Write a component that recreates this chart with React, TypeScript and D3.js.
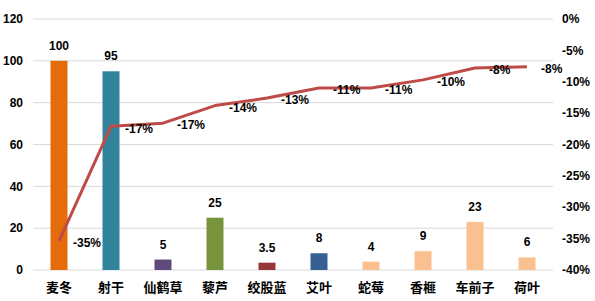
import React from "react";
import * as d3 from "d3";

const categories = ["麦冬", "射干", "仙鹤草", "藜芦", "绞股蓝", "艾叶", "蛇莓", "香榧", "车前子", "荷叶"];
const barValues = [100, 95, 5, 25, 3.5, 8, 4, 9, 23, 6];
const barLabels = ["100", "95", "5", "25", "3.5", "8", "4", "9", "23", "6"];
const barColors = ["#E46C0A", "#31849B", "#604A7B", "#77933C", "#953735", "#376092", "#FAC090", "#FAC090", "#FAC090", "#FAC090"];
const lineValues = [-35.4, -17.1, -16.6, -13.8, -12.6, -11, -11, -9.7, -7.8, -7.6];
const leftTicks = [0, 20, 40, 60, 80, 100, 120];
const rightTicks = [0, -5, -10, -15, -20, -25, -30, -35, -40];

const W = 595;
const H = 301;
const left = 33;
const right = 553;
const top = 19;
const bottom = 270;

export default function App() {
  const x = d3.scaleBand<string>().domain(categories).range([left, right]).paddingInner(0).paddingOuter(0);
  const yL = d3.scaleLinear().domain([0, 120]).range([bottom, top]);
  const yR = d3.scaleLinear().domain([-40, 0]).range([bottom, top]);
  const barW = 17;
  const cx = (c: string) => (x(c) as number) + x.bandwidth() / 2;
  const line = d3
    .line<number>()
    .x((_, i) => cx(categories[i]))
    .y((d) => yR(d))
    .curve(d3.curveLinear);
  const fmt = (v: number) => `${Math.round(v)}%`;
  const font = "'Liberation Sans', Arial, sans-serif";
  const cjk = "'Noto Sans CJK SC', sans-serif";

  return (
    <svg width={W} height={H} style={{ position: "absolute", left: 0, top: 0, background: "#fff" }}>
      <rect x={0} y={0} width={W} height={H} fill="#fff" />
      {leftTicks.map((t) => (
        <line key={"g" + t} x1={left} x2={right} y1={yL(t)} y2={yL(t)} stroke="#D9D9D9" strokeWidth={1} />
      ))}
      {leftTicks.map((t) => (
        <text key={"l" + t} x={23} y={yL(t)} dy="0.35em" textAnchor="end" fontFamily={font} fontWeight="bold" fontSize={12} fill="#000">
          {t}
        </text>
      ))}
      {rightTicks.map((t) => (
        <text key={"r" + t} x={562} y={yR(t)} dy="0.35em" textAnchor="start" fontFamily={font} fontWeight="bold" fontSize={12} fill="#000">
          {t}%
        </text>
      ))}
      {categories.map((c, i) => (
        <rect key={"b" + c} x={cx(c) - barW / 2} y={yL(barValues[i])} width={barW} height={bottom - yL(barValues[i])} fill={barColors[i]} />
      ))}
      {categories.map((c, i) => (
        <text key={"bl" + c} x={cx(c)} y={yL(barValues[i]) - 11} textAnchor="middle" fontFamily={font} fontWeight="bold" fontSize={12} fill="#000">
          {barLabels[i]}
        </text>
      ))}
      <path d={line(lineValues) || ""} fill="none" stroke="#BE4B48" strokeWidth={3} strokeLinejoin="round" />
      {categories.map((c, i) => (
        <text key={"ll" + c} x={cx(c) + 14} y={yR(lineValues[i]) + 2} dy="0.35em" textAnchor="start" fontFamily={font} fontWeight="bold" fontSize={12} fill="#000">
          {fmt(lineValues[i])}
        </text>
      ))}
      {categories.map((c) => (
        <text key={"c" + c} x={cx(c)} y={287} dy="0.35em" textAnchor="middle" fontFamily={cjk} fontWeight="bold" fontSize={13} fill="#000">
          {c}
        </text>
      ))}
    </svg>
  );
}
